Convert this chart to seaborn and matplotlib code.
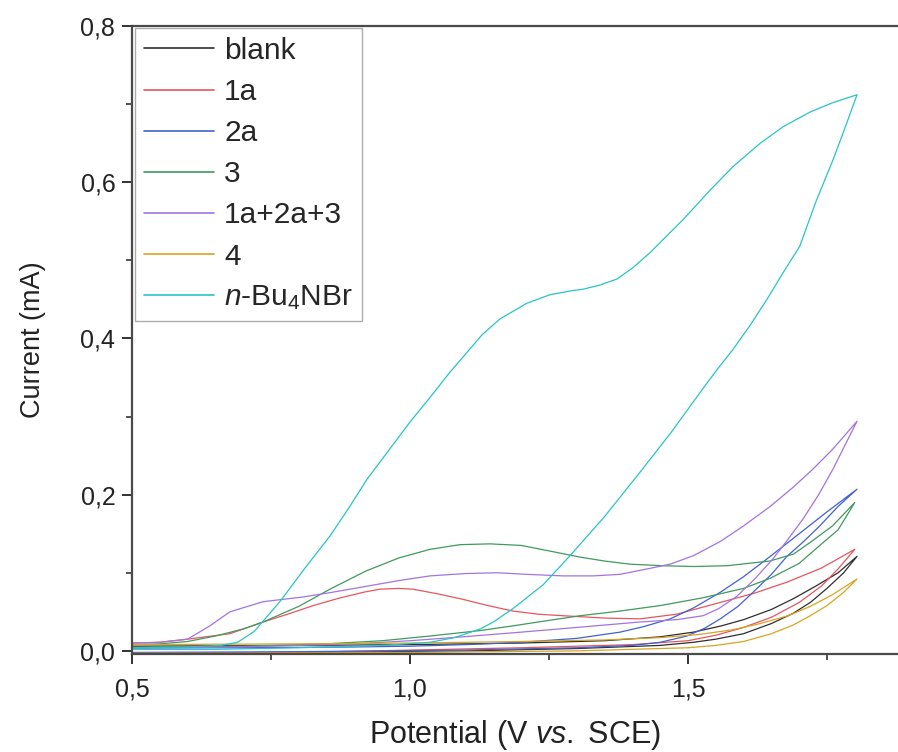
import matplotlib
matplotlib.use("Agg")
import matplotlib.pyplot as plt
import seaborn as sns
import pandas as pd
from matplotlib.ticker import MultipleLocator, FuncFormatter

# cyclic voltammograms (forward scan then reverse scan)
LABELS = ["blank", "1a", "2a", "3", "1a+2a+3", "4", r"$\it{n}$-Bu$_4$NBr"]

blank_v = [0.5, 0.8, 1.0, 1.2, 1.35, 1.45, 1.51, 1.56, 1.6, 1.65, 1.69, 1.73, 1.77, 1.804,
           1.78, 1.75, 1.72, 1.689, 1.65, 1.6, 1.55, 1.51, 1.45, 1.3, 1.1, 0.8, 0.5]
blank_i = [0.006, 0.007, 0.008, 0.010, 0.013, 0.018, 0.024, 0.032, 0.040, 0.053, 0.067, 0.083, 0.100, 0.121,
           0.100, 0.080, 0.062, 0.048, 0.035, 0.022, 0.015, 0.011, 0.007, 0.003, 0.000, -0.002, -0.003]

a1_v = [0.5, 0.55, 0.6, 0.676, 0.736, 0.78, 0.826, 0.87, 0.916, 0.946, 0.98, 1.005, 1.05, 1.095,
        1.14, 1.185, 1.23, 1.275, 1.35, 1.414, 1.48, 1.558, 1.62, 1.678, 1.74, 1.80,
        1.77, 1.74, 1.70, 1.65, 1.60, 1.55, 1.5, 1.4, 1.2, 1.0, 0.8, 0.5]
a1_i = [0.010, 0.011, 0.015, 0.022, 0.037, 0.047, 0.058, 0.067, 0.075, 0.079, 0.080, 0.079, 0.073, 0.066,
        0.058, 0.051, 0.047, 0.045, 0.042, 0.041, 0.047, 0.062, 0.074, 0.088, 0.106, 0.130,
        0.105, 0.083, 0.062, 0.043, 0.030, 0.020, 0.013, 0.008, 0.004, 0.001, -0.002, -0.003]

a2_v = [0.5, 0.7, 0.9, 1.0, 1.1, 1.2, 1.3, 1.378, 1.42, 1.468, 1.51, 1.558, 1.6, 1.648, 1.7, 1.75, 1.804,
        1.77, 1.737, 1.708, 1.678, 1.65, 1.617, 1.59, 1.558, 1.53, 1.498, 1.45, 1.4, 1.3, 1.1, 0.8, 0.5]
a2_i = [0.004, 0.004, 0.005, 0.006, 0.008, 0.011, 0.016, 0.024, 0.031, 0.041, 0.055, 0.075, 0.095, 0.121, 0.150, 0.178, 0.207,
        0.185, 0.160, 0.140, 0.121, 0.098, 0.075, 0.057, 0.041, 0.029, 0.019, 0.011, 0.007, 0.004, 0.001, -0.001, -0.002]

c3_v = [0.5, 0.55, 0.6, 0.65, 0.7, 0.736, 0.8, 0.856, 0.92, 0.98, 1.036, 1.09, 1.144, 1.2, 1.25, 1.306,
        1.35, 1.396, 1.455, 1.51, 1.57, 1.647, 1.69, 1.72, 1.76, 1.80,
        1.77, 1.737, 1.70, 1.648, 1.6, 1.527, 1.45, 1.378, 1.306, 1.24, 1.185, 1.126, 1.036, 0.95, 0.85, 0.7, 0.5]
c3_i = [0.008, 0.009, 0.012, 0.019, 0.028, 0.037, 0.057, 0.079, 0.102, 0.119, 0.130, 0.136, 0.137, 0.135, 0.128, 0.120,
        0.115, 0.111, 0.109, 0.108, 0.109, 0.115, 0.124, 0.139, 0.160, 0.190,
        0.155, 0.135, 0.112, 0.093, 0.080, 0.068, 0.058, 0.051, 0.045, 0.038, 0.032, 0.026, 0.019, 0.013, 0.009, 0.006, 0.004]

mix_v = [0.5, 0.55, 0.6, 0.64, 0.676, 0.736, 0.808, 0.86, 0.916, 0.98, 1.036, 1.1, 1.156, 1.21, 1.275, 1.33,
         1.378, 1.42, 1.468, 1.51, 1.558, 1.6, 1.648, 1.69, 1.725, 1.76, 1.804,
         1.78, 1.761, 1.735, 1.707, 1.68, 1.653, 1.62, 1.588, 1.555, 1.527, 1.48, 1.414, 1.3, 1.2, 1.095,
         1.0, 0.9, 0.75, 0.6, 0.5]
mix_i = [0.010, 0.011, 0.015, 0.032, 0.050, 0.063, 0.069, 0.075, 0.082, 0.090, 0.096, 0.099, 0.100, 0.098, 0.096, 0.096,
         0.098, 0.104, 0.111, 0.122, 0.140, 0.160, 0.185, 0.210, 0.233, 0.258, 0.294,
         0.260, 0.233, 0.200, 0.169, 0.143, 0.118, 0.092, 0.070, 0.054, 0.045, 0.040, 0.037, 0.030, 0.024, 0.018,
         0.013, 0.009, 0.006, 0.004, 0.003]

d4_v = [0.5, 0.8, 1.0, 1.2, 1.35, 1.45, 1.52, 1.58, 1.63, 1.68, 1.72, 1.76, 1.804,
        1.78, 1.75, 1.72, 1.689, 1.65, 1.6, 1.55, 1.5, 1.3, 1.0, 0.7, 0.5]
d4_i = [0.008, 0.009, 0.010, 0.012, 0.014, 0.017, 0.021, 0.027, 0.035, 0.045, 0.057, 0.072, 0.092,
        0.075, 0.058, 0.045, 0.033, 0.022, 0.012, 0.007, 0.004, 0.000, -0.002, -0.003, -0.003]

bu_v = [0.5, 0.6, 0.66, 0.69, 0.72, 0.766, 0.81, 0.856, 0.89, 0.923, 0.96, 1.0, 1.04, 1.072, 1.1, 1.13,
        1.162, 1.21, 1.252, 1.29, 1.311, 1.34, 1.372, 1.4, 1.432, 1.46, 1.491, 1.54, 1.581, 1.63, 1.671,
        1.72, 1.761, 1.804,
        1.78, 1.761, 1.73, 1.701, 1.67, 1.642, 1.61, 1.581, 1.55, 1.522, 1.47, 1.414, 1.35, 1.288, 1.24,
        1.185, 1.15, 1.126, 1.08, 1.036, 0.95, 0.8, 0.65, 0.5]
bu_i = [0.004, 0.005, 0.007, 0.011, 0.025, 0.063, 0.105, 0.147, 0.183, 0.220, 0.255, 0.293, 0.328, 0.357, 0.380, 0.405,
        0.425, 0.445, 0.456, 0.461, 0.463, 0.468, 0.476, 0.490, 0.510, 0.530, 0.552, 0.590, 0.620, 0.650, 0.671,
        0.690, 0.702, 0.712,
        0.665, 0.629, 0.575, 0.518, 0.483, 0.450, 0.415, 0.386, 0.358, 0.331, 0.280, 0.229, 0.172, 0.122, 0.085,
        0.054, 0.037, 0.028, 0.017, 0.011, 0.007, 0.004, 0.002, 0.002]

COLORS = ["#2e2e2e", "#e8555e", "#3f62d0", "#3f9a5e", "#a274e0", "#d8a423", "#27c4c8"]

series = [(blank_v, blank_i), (a1_v, a1_i), (a2_v, a2_i), (c3_v, c3_i),
          (mix_v, mix_i), (d4_v, d4_i), (bu_v, bu_i)]
frames = []
for lab, (v, i) in zip(LABELS, series):
    frames.append(pd.DataFrame({"E": v, "I": i, "sample": lab}))
df = pd.concat(frames, ignore_index=True)

sns.set_style("ticks")
plt.rcParams["font.family"] = ["Liberation Sans", "DejaVu Sans"]
plt.rcParams["mathtext.fontset"] = "custom"
plt.rcParams["mathtext.rm"] = "Liberation Sans"
plt.rcParams["mathtext.it"] = "Liberation Sans:italic"

fig = plt.figure(figsize=(8.98, 7.52), dpi=100)
ax = fig.add_axes([132 / 898, 98 / 752, 1 - 132 / 898, 628 / 752])

sns.lineplot(data=df, x="E", y="I", hue="sample", hue_order=LABELS,
             palette=dict(zip(LABELS, COLORS)),
             estimator=None, sort=False, linewidth=0.9, ax=ax)

ax.set_xlim(0.5, 0.5 + (898 - 132) / 556)
ax.set_ylim(-0.004, 0.8)
ax.xaxis.set_major_locator(MultipleLocator(0.5))
ax.xaxis.set_minor_locator(MultipleLocator(0.25))
ax.yaxis.set_major_locator(MultipleLocator(0.2))
ax.yaxis.set_minor_locator(MultipleLocator(0.1))
comma = FuncFormatter(lambda x, p: f"{x:.1f}".replace(".", ","))
ax.xaxis.set_major_formatter(comma)
ax.yaxis.set_major_formatter(comma)
ax.tick_params(which="major", direction="out", length=7, width=1.4, labelsize=18, colors="#333333",
               labelcolor="#222222")
ax.tick_params(which="minor", direction="out", length=4, width=1.2, colors="#333333")
ax.tick_params(axis="x", which="major", pad=10)
ax.tick_params(axis="y", which="major", pad=5)

for s in ["left", "bottom", "top"]:
    ax.spines[s].set_linewidth(1.6)
    ax.spines[s].set_color("#4a4a4a")
ax.spines["right"].set_visible(False)

ax.set_xlabel(r"Potential (V $\it{vs.}$ SCE)", fontsize=22, color="#222222")
ax.set_ylabel("Current (mA)", fontsize=19.5, color="#222222")
ax.xaxis.set_label_coords((515 - 132) / 766, -(718 - 654) / 628)
ax.yaxis.set_label_coords(-(132 - 46) / 766, 0.5)

sns.move_legend(ax, "upper left", bbox_to_anchor=(0.004, 0.997), title=None, frameon=True,
                fancybox=False, fontsize=21.5, handlelength=2.35, handletextpad=0.33,
                labelspacing=0.44, borderpad=0.3, borderaxespad=0.0, edgecolor="#999999")
leg = ax.get_legend()
leg.get_frame().set_linewidth(1.0)
for line in leg.get_lines():
    line.set_linewidth(1.2)

fig.savefig("out.png", dpi=100)
